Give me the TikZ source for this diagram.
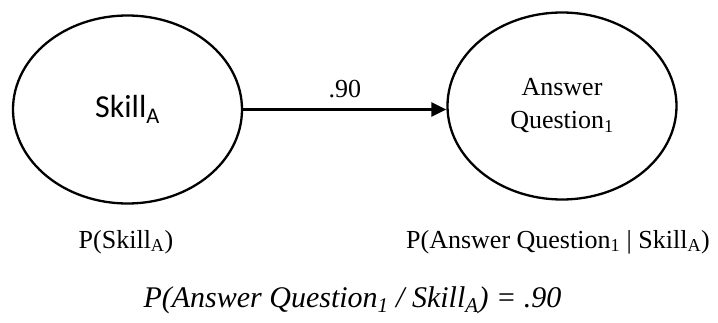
\documentclass[tikz,border=0pt]{standalone}
\usepackage{fontspec}
\setmainfont{Liberation Serif}
\newfontfamily\calibri{Carlito}
\usetikzlibrary{arrows.meta,positioning,shapes.geometric}
\tikzset{
  >=Stealth,
  var/.style={ellipse, draw, line width=2.3pt, minimum width=229pt, minimum height=188pt, inner sep=0pt},
  tr/.style={-{Triangle[length=15pt,width=14pt]}, line width=2.3pt},
  lbl/.style={font=\fontsize{26}{33}\selectfont},
  eqn/.style={font=\fontsize{30}{36}\selectfont\itshape}
}
\begin{document}
\begin{tikzpicture}[x=1pt, y=1pt]
    \useasboundingbox (0,0) rectangle (718,322);

    % the two variables
    \node[var, font=\calibri\fontsize{32}{38}\selectfont] (skill) at (127.5, 212.5) {Skill\textsubscript{A}};
    \node[var, lbl, align=center, minimum height=187pt] (answer) at (562, 216) {Answer\\Question\textsubscript{1}};

    % link with its weight
    \draw[tr] (skill.east) -- node[lbl, above=7pt] {.90} (skill.east -| answer.west);

    % probabilities below
    \node[lbl, anchor=base] (pskill) at (126, 74) {P(Skill\textsubscript{A})};
    \node[lbl, anchor=base] (panswer) at (558, 74) {P(Answer Question\textsubscript{1} | Skill\textsubscript{A})};

    \node[eqn, anchor=base] (result) at (352.5, 15) {P(Answer Question\textsubscript{1} / Skill\textsubscript{A}) = .90};
\end{tikzpicture}
\end{document}
